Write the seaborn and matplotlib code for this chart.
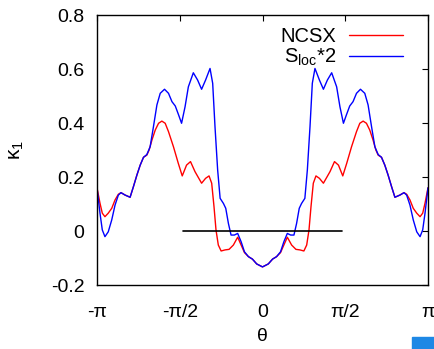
import numpy as np
import pandas as pd
import matplotlib
matplotlib.use("Agg")
import matplotlib.pyplot as plt
from matplotlib.patches import Rectangle
import seaborn as sns

# Curvature profiles along the poloidal angle, theta given in units of pi
ncsx_theta = [-1.000, -0.982, -0.968, -0.952, -0.932, -0.911, -0.891, -0.871, -0.855,
              -0.830, -0.800, -0.780, -0.759, -0.739, -0.719, -0.699, -0.685, -0.668,
              -0.648, -0.628, -0.608, -0.588, -0.568, -0.538, -0.509, -0.485, -0.459,
              -0.435, -0.408, -0.368, -0.344, -0.323, -0.307, -0.293, -0.281, -0.267,
              -0.250, -0.226, -0.202, -0.176, -0.150, -0.129, -0.109, -0.085, -0.061,
              -0.035, 0.000,
              0.035, 0.061, 0.085, 0.109, 0.129, 0.150, 0.176, 0.202, 0.226, 0.250,
              0.267, 0.281, 0.293, 0.307, 0.323, 0.344, 0.368, 0.408, 0.435, 0.459,
              0.485, 0.509, 0.538, 0.568, 0.588, 0.608, 0.628, 0.648, 0.668, 0.685,
              0.699, 0.719, 0.739, 0.759, 0.780, 0.800, 0.830, 0.855, 0.871, 0.891,
              0.911, 0.932, 0.952, 0.968, 0.982, 1.000]
ncsx_kappa = [0.160, 0.103, 0.066, 0.053, 0.066, 0.084, 0.115, 0.136, 0.142,
              0.133, 0.125, 0.164, 0.207, 0.244, 0.273, 0.281, 0.300, 0.337,
              0.374, 0.399, 0.407, 0.399, 0.368, 0.312, 0.251, 0.204, 0.244,
              0.257, 0.220, 0.177, 0.195, 0.204, 0.177, 0.090, 0.004, -0.052,
              -0.074, -0.070, -0.068, -0.052, -0.023, -0.052, -0.080, -0.095, -0.104,
              -0.122, -0.133,
              -0.122, -0.104, -0.095, -0.080, -0.052, -0.023, -0.052, -0.068, -0.070, -0.074,
              -0.052, 0.004, 0.090, 0.177, 0.204, 0.195, 0.177, 0.220, 0.257, 0.244,
              0.204, 0.251, 0.312, 0.368, 0.399, 0.407, 0.399, 0.374, 0.337, 0.300,
              0.281, 0.273, 0.244, 0.207, 0.164, 0.125, 0.133, 0.142, 0.136, 0.115,
              0.084, 0.066, 0.053, 0.066, 0.103, 0.160]

sloc_theta = [-1.000, -0.982, -0.968, -0.952, -0.932, -0.911, -0.891, -0.871, -0.855,
              -0.830, -0.800, -0.780, -0.759, -0.739, -0.719, -0.699, -0.679, -0.659,
              -0.638, -0.618, -0.592, -0.568, -0.547, -0.527, -0.507, -0.489, -0.468,
              -0.448, -0.418, -0.392, -0.368, -0.344, -0.317, -0.301, -0.287, -0.271,
              -0.256, -0.236, -0.222, -0.206, -0.190, -0.170, -0.150, -0.129, -0.109,
              -0.085, -0.061, -0.035, 0.000,
              0.035, 0.061, 0.085, 0.109, 0.129, 0.150, 0.170, 0.190, 0.206, 0.222,
              0.236, 0.256, 0.271, 0.287, 0.301, 0.317, 0.344, 0.368, 0.392, 0.418,
              0.448, 0.468, 0.489, 0.507, 0.527, 0.547, 0.568, 0.592, 0.618, 0.638,
              0.659, 0.679, 0.699, 0.719, 0.739, 0.759, 0.780, 0.800, 0.830, 0.855,
              0.871, 0.891, 0.911, 0.932, 0.952, 0.968, 0.982, 1.000]
sloc_kappa = [0.160, 0.066, 0.004, -0.021, -0.003, 0.041, 0.096, 0.133, 0.142,
              0.133, 0.125, 0.164, 0.207, 0.244, 0.273, 0.283, 0.312, 0.386,
              0.467, 0.510, 0.525, 0.510, 0.479, 0.463, 0.430, 0.399, 0.460,
              0.534, 0.586, 0.559, 0.525, 0.559, 0.602, 0.547, 0.386, 0.226,
              0.121, 0.102, 0.084, 0.028, -0.015, -0.015, -0.009, -0.040, -0.077,
              -0.095, -0.104, -0.122, -0.133,
              -0.122, -0.104, -0.095, -0.077, -0.040, -0.009, -0.015, -0.015, 0.028, 0.084,
              0.102, 0.121, 0.226, 0.386, 0.547, 0.602, 0.559, 0.525, 0.559, 0.586,
              0.534, 0.460, 0.399, 0.430, 0.463, 0.479, 0.510, 0.525, 0.510, 0.467,
              0.386, 0.312, 0.283, 0.273, 0.244, 0.207, 0.164, 0.125, 0.133, 0.142,
              0.133, 0.096, 0.041, -0.003, -0.021, 0.004, 0.066, 0.160]

# Zero reference segment (theta in radians)
zero_theta = [-1.5, 1.5]
zero_kappa = [0.0, 0.0]

xtick_labels = ["-\u03c0", "-\u03c0/2", "0", "\u03c0/2", "\u03c0"]
ytick_values = [-0.2, 0, 0.2, 0.4, 0.6, 0.8]
ytick_labels = ["-0.2", "0", "0.2", "0.4", "0.6", "0.8"]

sns.set_theme(style="white")
plt.rcParams["font.family"] = ["Liberation Sans", "DejaVu Sans"]
plt.rcParams["mathtext.default"] = "regular"

ncsx = pd.DataFrame({"theta": np.pi * np.array(ncsx_theta), "kappa": ncsx_kappa})
sloc = pd.DataFrame({"theta": np.pi * np.array(sloc_theta), "kappa": sloc_kappa})
zero = pd.DataFrame({"theta": zero_theta, "kappa": zero_kappa})

fig = plt.figure(figsize=(4.34, 3.49), dpi=100)
fig.patch.set_facecolor("white")
ax = fig.add_axes([97 / 434, 1 - 285 / 349, (428 - 97) / 434, (285 - 15) / 349])

sns.lineplot(data=ncsx, x="theta", y="kappa", ax=ax, color="#ff0000", lw=1.0,
             label="NCSX", sort=False, estimator=None)
sns.lineplot(data=sloc, x="theta", y="kappa", ax=ax, color="#0000ff", lw=1.0,
             label="S$_{loc}$*2", sort=False, estimator=None)
sns.lineplot(data=zero, x="theta", y="kappa", ax=ax, color="black", lw=1.2,
             sort=False, estimator=None)

ax.set_xlim(-np.pi, np.pi)
ax.set_ylim(-0.2, 0.8)
ax.set_xticks([-np.pi, -np.pi / 2, 0, np.pi / 2, np.pi])
ax.set_xticklabels(xtick_labels)
ax.set_yticks(ytick_values)
ax.set_yticklabels(ytick_labels)
ax.tick_params(axis="both", which="both", direction="in", length=4, width=0.8,
               top=True, right=True, labelsize=14, colors="black")
ax.tick_params(axis="x", pad=14)
ax.tick_params(axis="y", pad=9)
for s in ax.spines.values():
    s.set_visible(True)
    s.set_color("black")
    s.set_linewidth(1.0)

ax.set_xlabel("\u03b8", fontsize=14, color="black", labelpad=5)
ax.set_ylabel("\u03ba$_1$", fontsize=15, color="black", labelpad=18)

leg = ax.legend(loc="upper right", bbox_to_anchor=(0.9245, 0.957), frameon=False,
                markerfirst=False, fontsize=14.5, handlelength=2.7,
                handletextpad=0.6, labelspacing=0.05, borderaxespad=0.0,
                borderpad=0.0)
for t in leg.get_texts():
    t.set_color("black")

fig.patches.append(Rectangle((412 / 434, 0), 22 / 434, 12 / 349,
                             transform=fig.transFigure, color="#1e88e5", zorder=5))

fig.savefig("out.png", dpi=100, facecolor="white")
